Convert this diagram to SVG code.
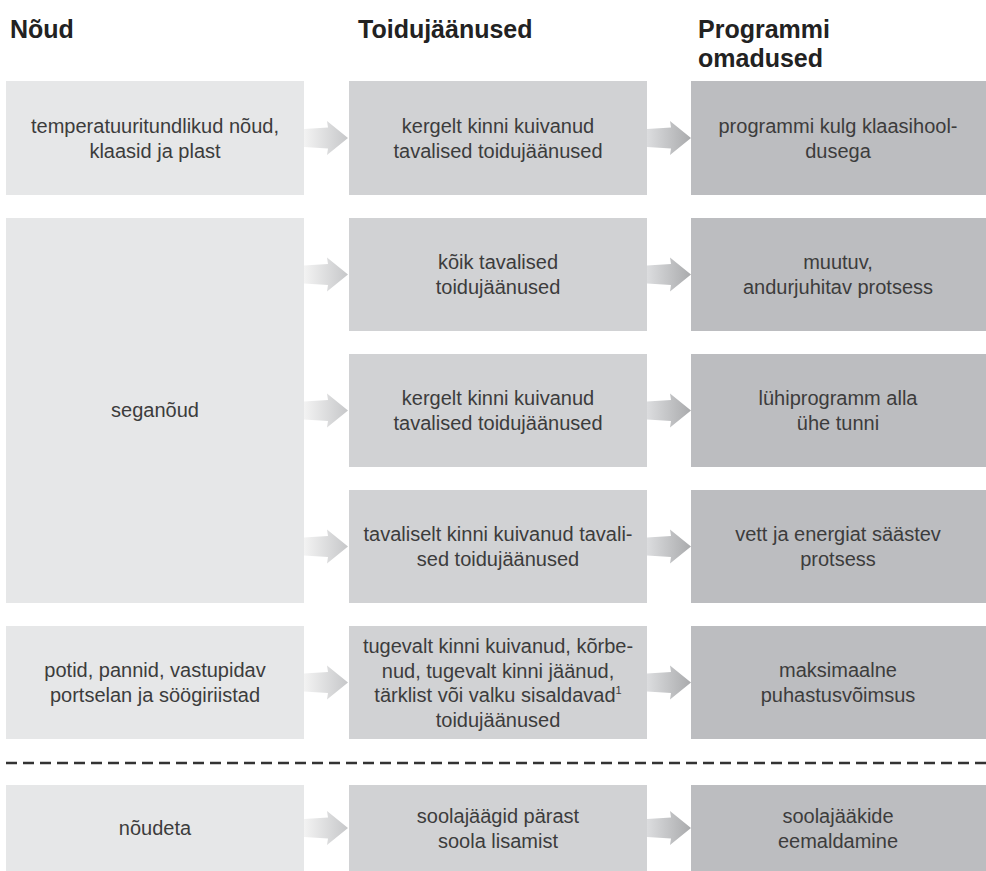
<svg xmlns="http://www.w3.org/2000/svg" width="986" height="871" viewBox="0 0 986 871">
<style>
.c1{fill:#e6e7e8}.c2{fill:#d1d2d4}.c3{fill:#bcbdc0}
text{font-family:"Liberation Sans",Arial,sans-serif;font-size:20px;fill:#3c3c3c;text-anchor:middle}
.h{font-size:25px;font-weight:bold;text-anchor:start;fill:#222}
.a1{fill:url(#g1)}.a2{fill:url(#g2)}
</style>
<defs>
<linearGradient id="g1" x1="0" y1="0" x2="1" y2="0"><stop offset="0" stop-color="#f3f3f3"/><stop offset="1" stop-color="#c6c7c9"/></linearGradient>
<linearGradient id="g2" x1="0" y1="0" x2="1" y2="0"><stop offset="0" stop-color="#dcdddf"/><stop offset="1" stop-color="#a9aaac"/></linearGradient>
<path id="arr" d="M0,-9 L24,-10.5 L23,-17 L44,0 L23,17 L24,10.5 L0,9 Z"/>
</defs>
<g id="headers">
<text class="h" x="10" y="38">Nõud</text>
<text class="h" x="358" y="38">Toidujäänused</text>
<text class="h" x="698" y="38">Programmi</text>
<text class="h" x="698" y="67">omadused</text>
</g>
<g id="connectors">
<use href="#arr" class="a1" x="304" y="138"/>
<use href="#arr" class="a2" x="647" y="138"/>
<use href="#arr" class="a1" x="304" y="274.5"/>
<use href="#arr" class="a2" x="647" y="274.5"/>
<use href="#arr" class="a1" x="304" y="410.5"/>
<use href="#arr" class="a2" x="647" y="410.5"/>
<use href="#arr" class="a1" x="304" y="546.5"/>
<use href="#arr" class="a2" x="647" y="546.5"/>
<use href="#arr" class="a1" x="304" y="682.5"/>
<use href="#arr" class="a2" x="647" y="682.5"/>
<use href="#arr" class="a1" x="304" y="828"/>
<use href="#arr" class="a2" x="647" y="828"/>
</g>
<g id="r1c1"><rect class="c1" x="6" y="81" width="298" height="114"/><text x="155" y="133">temperatuuritundlikud nõud,</text><text x="155" y="158">klaasid ja plast</text></g>
<g id="r1c2"><rect class="c2" x="349" y="81" width="298" height="114"/><text x="498" y="133">kergelt kinni kuivanud</text><text x="498" y="158">tavalised toidujäänused</text></g>
<g id="r1c3"><rect class="c3" x="691" y="81" width="295" height="114"/><text x="838" y="133">programmi kulg klaasihool-</text><text x="838" y="158">dusega</text></g>
<g id="r2c1"><rect class="c1" x="6" y="218" width="298" height="385"/><text x="155" y="417">seganõud</text></g>
<g id="r2ac2"><rect class="c2" x="349" y="218" width="298" height="113"/><text x="498" y="269">kõik tavalised</text><text x="498" y="294">toidujäänused</text></g>
<g id="r2ac3"><rect class="c3" x="691" y="218" width="295" height="113"/><text x="838" y="269">muutuv,</text><text x="838" y="294">andurjuhitav protsess</text></g>
<g id="r2bc2"><rect class="c2" x="349" y="354" width="298" height="113"/><text x="498" y="405">kergelt kinni kuivanud</text><text x="498" y="430">tavalised toidujäänused</text></g>
<g id="r2bc3"><rect class="c3" x="691" y="354" width="295" height="113"/><text x="838" y="405">lühiprogramm alla</text><text x="838" y="430">ühe tunni</text></g>
<g id="r2cc2"><rect class="c2" x="349" y="490" width="298" height="113"/><text x="498" y="541">tavaliselt kinni kuivanud tavali-</text><text x="498" y="566">sed toidujäänused</text></g>
<g id="r2cc3"><rect class="c3" x="691" y="490" width="295" height="113"/><text x="838" y="541">vett ja energiat säästev</text><text x="838" y="566">protsess</text></g>
<g id="r3c1"><rect class="c1" x="6" y="626" width="298" height="113"/><text x="155" y="677">potid, pannid, vastupidav</text><text x="155" y="702">portselan ja söögiriistad</text></g>
<g id="r3c2"><rect class="c2" x="349" y="626" width="298" height="113"/><text x="498" y="653">tugevalt kinni kuivanud, kõrbe-</text><text x="498" y="677.5">nud, tugevalt kinni jäänud,</text><text x="498" y="702">tärklist või valku sisaldavad<tspan font-size="11" dy="-8">1</tspan></text><text x="498" y="726.5">toidujäänused</text></g>
<g id="r3c3"><rect class="c3" x="691" y="626" width="295" height="113"/><text x="838" y="677">maksimaalne</text><text x="838" y="702">puhastusvõimsus</text></g>
<g id="divider"><line x1="6" y1="763" x2="986" y2="763" stroke="#333" stroke-width="2.5" stroke-dasharray="11 6"/></g>
<g id="r4c1"><rect class="c1" x="6" y="785" width="298" height="86"/><text x="155" y="835">nõudeta</text></g>
<g id="r4c2"><rect class="c2" x="349" y="785" width="298" height="86"/><text x="498" y="823">soolajäägid pärast</text><text x="498" y="848">soola lisamist</text></g>
<g id="r4c3"><rect class="c3" x="691" y="785" width="295" height="86"/><text x="838" y="823">soolajääkide</text><text x="838" y="848">eemaldamine</text></g>
</svg>
